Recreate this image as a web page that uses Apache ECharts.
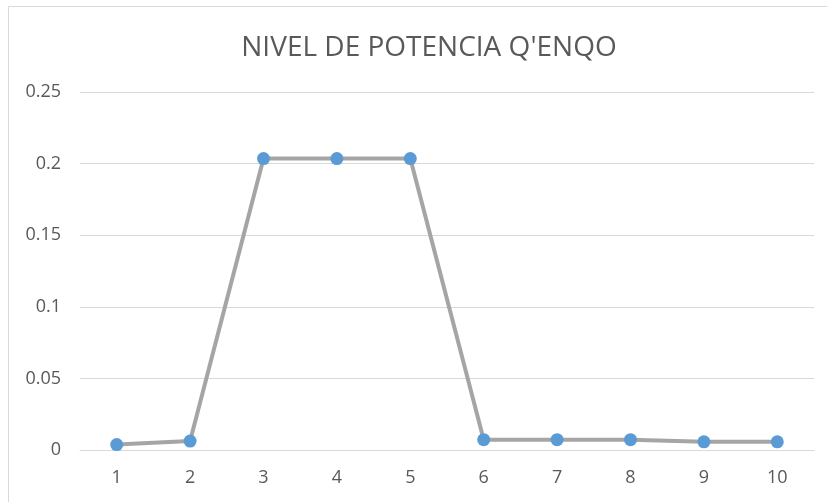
<!DOCTYPE html>
<html>
<head>
<meta charset="utf-8">
<script src="https://cdn.jsdelivr.net/npm/echarts@6/dist/echarts.min.js"></script>
<style>
  html, body { margin: 0; padding: 0; background: #fff; }
  #chart { width: 827px; height: 502px; }
</style>
</head>
<body>
<div id="chart"></div>
<script>
// Power level readings per measurement point
const chartTitle = "NIVEL DE POTENCIA Q'ENQO";
const categories = ['1', '2', '3', '4', '5', '6', '7', '8', '9', '10'];
const powerLevel = [0.0038, 0.0062, 0.2035, 0.2035, 0.2035, 0.0072, 0.0072, 0.0072, 0.0057, 0.0057];

const font = '"Open Sans", "Liberation Sans", sans-serif';
const chart = echarts.init(document.getElementById('chart'));
chart.setOption({
  animation: false,
  backgroundColor: '#ffffff',
  graphic: [{
    type: 'rect',
    shape: { x: 8.5, y: 6.5, width: 840, height: 520 },
    style: { fill: 'none', stroke: '#d9d9d9', lineWidth: 1 },
    silent: true
  }],
  title: {
    text: chartTitle,
    left: 424,
    textAlign: 'center',
    top: 29,
    textStyle: { fontFamily: font, fontWeight: 'normal', fontSize: 28, color: '#595959' }
  },
  grid: { left: 80, right: 13, top: 92, bottom: 52 },
  xAxis: {
    type: 'category',
    data: categories,
    boundaryGap: true,
    axisLine: { lineStyle: { color: '#d9d9d9', width: 1 } },
    axisTick: { show: false },
    axisLabel: { fontFamily: font, fontSize: 18, color: '#595959', margin: 19 }
  },
  yAxis: {
    type: 'value',
    min: 0,
    max: 0.25,
    interval: 0.05,
    axisLine: { show: false },
    axisTick: { show: false },
    splitLine: { lineStyle: { color: '#d9d9d9', width: 1 } },
    axisLabel: { fontFamily: font, fontSize: 18, color: '#595959', margin: 19 }
  },
  series: [{
    type: 'line',
    data: powerLevel,
    symbol: 'circle',
    symbolSize: 13,
    lineStyle: { color: '#a5a5a5', width: 4 },
    itemStyle: { color: '#5b9bd5' }
  }]
});
</script>
</body>
</html>
